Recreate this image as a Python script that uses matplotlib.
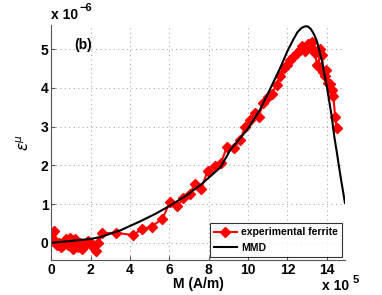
import matplotlib
matplotlib.use("Agg")
import matplotlib.pyplot as plt

# experimental ferrite (M in 1e5 A/m, strain in 1e-6)
exp_m = [0.0, 0.05, 0.15, 0.2, 0.3, 0.4, 0.5, 0.6, 0.75, 0.85, 0.95, 1.05, 1.1,
         1.2, 1.35, 1.45, 1.55, 1.7, 1.85, 2.0, 2.1, 2.3, 2.4, 2.6, 3.3, 4.15,
         4.6, 5.1, 5.65, 6.03, 6.38, 6.72, 7.06, 7.28, 7.61, 7.95, 8.3, 8.63,
         8.92, 9.26, 9.6, 9.85, 10.1, 10.36, 10.53, 10.78, 11.03, 11.2, 11.45,
         11.62, 11.8, 11.96, 12.13, 12.3, 12.47, 12.64, 12.73, 12.9, 13.06,
         13.23, 13.3, 13.4, 13.5, 13.57, 13.66, 13.75, 13.83, 13.9, 13.98,
         14.05, 14.15, 14.24, 14.33, 14.42, 14.5]
exp_e = [0.15, 0.25, 0.3, 0.05, -0.05, 0.0, -0.1, -0.05, 0.1, -0.05, 0.12, 0.0,
         -0.15, 0.1, -0.1, 0.0, -0.15, -0.05, 0.05, 0.0, -0.1, -0.2, 0.0, 0.25,
         0.26, 0.2, 0.35, 0.42, 0.62, 1.05, 0.94, 1.15, 1.26, 1.53, 1.39, 1.86,
         1.98, 2.06, 2.48, 2.44, 2.65, 3.0, 3.17, 3.35, 3.26, 3.6, 3.77, 3.85,
         4.07, 4.3, 4.5, 4.6, 4.72, 4.8, 4.9, 4.97, 5.07, 4.96, 5.14, 5.18, 5.0,
         4.9, 4.6, 4.56, 5.0, 4.85, 4.4, 4.3, 4.45, 4.12, 4.1, 3.95, 3.8, 3.26,
         2.96]

# MMD model curve
mmd_m = [0.0, 1.0, 2.0, 2.5, 3.5, 4.5, 5.3, 6.0, 6.8, 7.6, 8.6, 9.1, 10.0, 10.6,
         11.1, 11.62, 12.0, 12.3, 12.5, 12.7, 12.85, 12.94, 13.05, 13.2, 13.35,
         13.5, 13.74, 14.0, 14.25, 14.38, 14.5, 14.7, 14.92]
mmd_e = [0.0, 0.05, 0.1, 0.15, 0.32, 0.55, 0.75, 0.95, 1.2, 1.5, 1.95, 2.4,
         2.95, 3.43, 3.95, 4.5, 4.95, 5.25, 5.43, 5.54, 5.58, 5.59, 5.58, 5.51,
         5.38, 5.2, 4.72, 4.03, 3.26, 2.74, 2.36, 1.7, 1.03]

plt.rcParams['font.family'] = ['Liberation Sans', 'DejaVu Sans']

fig = plt.figure(figsize=(3.82, 2.95), dpi=100)
ax = fig.add_axes([0.134, 0.119, 0.769, 0.796])

ax.plot(exp_m, exp_e, color='red', lw=1.5, marker='D', ms=4.8,
        label='experimental ferrite')
ax.plot(mmd_m, mmd_e, color='black', lw=1.5, label='MMD')

ax.set_xlim(0, 14.92)
ax.set_ylim(-0.44, 5.62)
ax.set_xticks(range(0, 15, 2))
ax.set_yticks(range(0, 6))
ax.grid(True, linestyle=(0, (1, 3)), color='#aaaaaa', lw=0.8)
for s in ['top', 'right']:
    ax.spines[s].set_visible(False)
for s in ['left', 'bottom']:
    ax.spines[s].set_color('#555555')
    ax.spines[s].set_linewidth(0.8)
ax.tick_params(direction='in', length=3, labelsize=10, pad=2, color='#555555')
for lab in ax.get_xticklabels() + ax.get_yticklabels():
    lab.set_fontweight('bold')

ax.set_xlabel('M (A/m)', fontsize=10, fontweight='bold', labelpad=0)
ax.set_ylabel(r'$\varepsilon^{\mu}$', fontsize=11, labelpad=6)

ax.text(0.08, 0.9, '(b)', transform=ax.transAxes, fontsize=10, fontweight='bold')
fig.text(0.134, 0.935, 'x 10', fontsize=10, fontweight='bold')
fig.text(0.208, 0.99, '\u22126', fontsize=8, fontweight='bold', va='top')
fig.text(0.843, 0.018, 'x 10', fontsize=10, fontweight='bold')
fig.text(0.922, 0.042, '5', fontsize=8, fontweight='bold')

leg = ax.legend(loc='lower right', prop={'size': 7.5, 'weight': 'bold'},
                frameon=True, fancybox=False, borderpad=0.4, handlelength=2.2,
                handletextpad=0.4, borderaxespad=0.3)
leg.get_frame().set_edgecolor('black')
leg.get_frame().set_linewidth(0.8)

fig.savefig('out.png', dpi=100)
